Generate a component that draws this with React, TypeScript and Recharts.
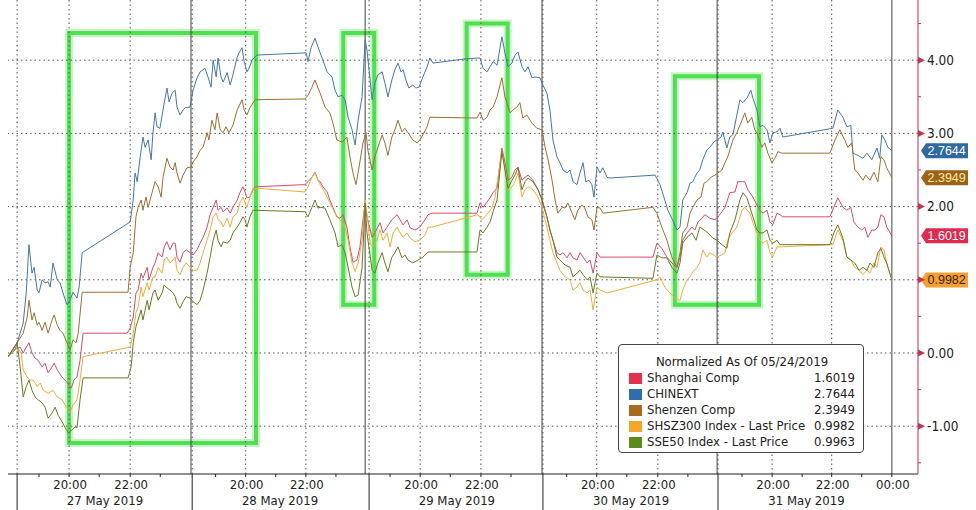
import {
  Legend,
  Line,
  LineChart,
  ReferenceArea,
  ReferenceDot,
  ReferenceLine,
  XAxis,
  YAxis,
} from 'recharts'

// x = hours on Bloomberg's compressed intraday axis (0 = start of 27 May session), y = normalized change
const shanghai: [number, number][] = [
  [-0.3, -0.05], [-0.13, 0.04], [0.1, 0.08], [0.2, 0], [0.3, 0.08], [0.39, 0.14], [0.49, 0], [0.59, -0.07],
  [0.69, -0.1], [0.82, -0.19], [0.92, -0.14], [1.02, -0.27], [1.15, -0.19], [1.22, -0.14], [1.32, -0.23],
  [1.48, -0.33], [1.64, -0.4], [1.78, -0.48], [1.87, -0.37], [1.97, -0.33], [2.07, -0.1], [2.17, 0.27],
  [3.62, 0.27], [3.72, 0.34], [3.82, 0.49], [3.91, 0.82], [3.98, 0.86], [4.08, 1.09], [4.14, 1.02],
  [4.28, 1.17], [4.34, 1.0], [4.47, 1.17], [4.54, 1.23], [4.64, 1.37], [4.77, 1.31], [4.84, 1.45],
  [4.93, 1.52], [5.03, 1.41], [5.13, 1.5], [5.2, 1.5], [5.26, 1.31], [5.36, 1.24], [5.46, 1.37],
  [5.56, 1.41], [5.69, 1.37], [5.79, 1.34], [5.92, 1.41], [6.02, 1.5], [6.12, 1.58], [6.25, 1.72],
  [6.35, 1.89], [6.45, 1.99], [6.55, 2.09], [6.61, 1.95], [6.71, 1.99], [6.78, 1.93], [6.91, 1.98],
  [7.01, 1.91], [7.1, 1.99], [7.24, 2.09], [7.33, 2.19], [7.43, 2.27], [7.5, 2.2], [7.56, 2.12],
  [7.66, 2.13], [7.76, 2.23], [7.83, 2.27], [9.47, 2.3], [9.57, 2.34], [9.7, 2.4], [9.8, 2.47],
  [9.9, 2.36], [9.97, 2.34], [10.06, 2.27], [10.2, 2.2], [10.29, 2.09], [10.39, 1.99], [10.52, 1.86],
  [10.62, 1.84], [10.72, 1.89], [10.85, 1.72], [10.95, 1.45], [11.05, 1.24], [11.18, 1.27], [11.28, 1.45],
  [11.38, 1.82], [11.45, 2.05], [11.51, 1.86], [11.68, 1.58], [11.77, 1.64], [11.94, 1.78], [12.04, 1.64],
  [12.17, 1.72], [12.33, 1.82], [12.5, 1.89], [12.6, 1.82], [12.7, 1.75], [12.83, 1.82], [12.93, 1.71],
  [13.09, 1.68], [13.25, 1.72], [13.42, 1.82], [13.52, 1.89], [13.65, 1.91], [15.13, 1.91], [15.23, 2.05],
  [15.33, 1.99], [15.46, 2.06], [15.56, 2.12], [15.66, 2.19], [15.79, 2.25], [15.95, 2.8], [16.05, 2.6],
  [16.15, 2.36], [16.28, 2.4], [16.38, 2.5], [16.48, 2.54], [16.61, 2.36], [16.71, 2.4], [16.81, 2.43],
  [16.97, 2.36], [17.14, 2.23], [17.27, 2.09], [17.43, 1.86], [17.53, 1.68], [17.63, 1.54], [17.76, 1.37],
  [17.86, 1.34], [17.96, 1.37], [18.09, 1.3], [18.19, 1.37], [18.29, 1.3], [18.42, 1.27], [18.52, 1.37],
  [18.62, 1.31], [18.75, 1.23], [18.85, 1.27], [18.95, 1.09], [19.08, 1.37], [19.18, 1.31], [20.92, 1.31],
  [21.05, 1.5], [21.21, 1.43], [21.38, 1.31], [21.54, 1.23], [21.71, 1.17], [21.81, 1.31], [21.9, 1.54],
  [22.04, 1.64], [22.2, 1.72], [22.3, 1.68], [22.4, 1.79], [22.53, 1.84], [22.63, 1.89], [22.79, 1.84],
  [22.96, 1.82], [23.06, 1.86], [23.19, 1.93], [23.29, 1.99], [23.45, 2.19], [23.62, 2.2], [23.71, 2.34],
  [23.85, 2.34], [23.94, 2.34], [24.04, 2.23], [24.21, 2.13], [24.34, 2.02], [24.44, 1.95], [24.54, 1.91],
  [24.67, 1.95], [24.77, 1.79], [24.86, 1.75], [25.0, 1.91], [25.1, 1.89], [25.19, 1.86], [26.74, 1.86],
  [26.87, 1.99], [27.0, 2.12], [27.17, 1.99], [27.3, 1.95], [27.43, 1.99], [27.53, 1.79], [27.66, 1.72],
  [27.79, 1.68], [27.89, 1.72], [27.99, 1.58], [28.12, 1.68], [28.22, 1.68], [28.32, 1.72], [28.42, 1.89],
  [28.52, 1.86], [28.61, 1.72], [28.78, 1.6019],
]

const chinext: [number, number][] = [
  [-0.3, -0.05], [-0.07, 0.04], [0.2, 0.41], [0.3, 0.82], [0.39, 1.48], [0.49, 1.09], [0.56, 1.17],
  [0.66, 0.86], [0.72, 0.82], [0.82, 1.0], [0.92, 0.96], [1.02, 0.97], [1.09, 0.9], [1.18, 1.23],
  [1.32, 1.0], [1.41, 0.96], [1.51, 0.82], [1.64, 0.66], [1.74, 0.72], [1.84, 0.83], [1.97, 0.75],
  [2.04, 0.9], [2.14, 1.37], [3.72, 1.79], [3.82, 2.09], [3.88, 2.46], [3.95, 2.34], [4.05, 2.68],
  [4.14, 2.95], [4.21, 2.81], [4.31, 2.91], [4.41, 2.64], [4.47, 3.01], [4.54, 3.28], [4.6, 3.09],
  [4.7, 3.07], [4.8, 3.32], [4.93, 3.62], [5.0, 3.43], [5.1, 3.55], [5.2, 3.59], [5.26, 3.36],
  [5.36, 3.25], [5.46, 3.32], [5.53, 3.35], [5.69, 3.36], [5.79, 3.59], [5.92, 3.76], [6.02, 3.84],
  [6.18, 3.89], [6.28, 3.77], [6.38, 3.63], [6.45, 4.0], [6.55, 3.77], [6.61, 4.03], [6.71, 3.77],
  [6.78, 3.7], [6.91, 3.83], [7.01, 3.66], [7.1, 3.8], [7.24, 4.04], [7.3, 4.1], [7.4, 4.17],
  [7.47, 3.98], [7.56, 3.84], [7.63, 3.89], [7.73, 4.0], [7.79, 4.03], [7.89, 4.07], [9.51, 4.1],
  [9.57, 3.98], [9.67, 4.17], [9.8, 4.3], [9.9, 4.18], [10.06, 4.0], [10.2, 3.84], [10.36, 3.77],
  [10.46, 3.59], [10.56, 3.5], [10.69, 3.52], [10.79, 3.46], [10.89, 3.22], [11.02, 3.05], [11.12, 2.84],
  [11.22, 3.18], [11.35, 3.5], [11.45, 4.28], [11.51, 4.14], [11.68, 3.46], [11.77, 3.69], [11.87, 3.8],
  [12.01, 3.84], [12.1, 3.69], [12.2, 3.5], [12.33, 3.73], [12.43, 3.87], [12.53, 3.96], [12.63, 3.84],
  [12.7, 3.87], [12.79, 3.73], [12.89, 3.62], [13.02, 3.66], [13.12, 3.62], [13.22, 3.63], [13.35, 3.77],
  [13.49, 3.91], [13.58, 4.03], [13.68, 3.96], [14.8, 4.02], [15.23, 4.03], [15.33, 3.89], [15.46, 3.84],
  [15.56, 3.91], [15.66, 3.98], [15.79, 3.93], [15.95, 4.32], [16.05, 4.1], [16.15, 3.91], [16.28, 3.96],
  [16.38, 4.07], [16.48, 4.11], [16.61, 3.91], [16.71, 3.84], [16.81, 3.91], [16.94, 3.76], [17.04, 3.77],
  [17.2, 3.76], [17.3, 3.66], [17.43, 3.55], [17.53, 3.32], [17.63, 2.91], [17.76, 2.68], [17.86, 2.6],
  [17.96, 2.5], [18.09, 2.46], [18.19, 2.5], [18.29, 2.34], [18.42, 2.3], [18.52, 2.46], [18.62, 2.6],
  [18.71, 2.34], [18.81, 2.36], [18.91, 2.3], [18.98, 2.13], [19.08, 2.54], [19.18, 2.46], [19.27, 2.53],
  [19.41, 2.4], [19.5, 2.39], [20.99, 2.43], [21.15, 2.3], [21.31, 2.09], [21.41, 1.95], [21.54, 1.84],
  [21.71, 1.68], [21.81, 1.72], [21.9, 2.09], [22.04, 2.19], [22.14, 2.32], [22.23, 2.34], [22.37, 2.46],
  [22.46, 2.5], [22.56, 2.64], [22.69, 2.77], [22.79, 2.81], [22.92, 2.88], [23.02, 2.91], [23.16, 2.95],
  [23.22, 3.02], [23.35, 2.8], [23.45, 2.95], [23.55, 2.98], [23.68, 3.25], [23.78, 3.46], [23.88, 3.42],
  [24.01, 3.48], [24.14, 3.59], [24.21, 3.48], [24.34, 3.32], [24.44, 3.09], [24.54, 3.11], [24.67, 3.05],
  [24.77, 2.87], [24.86, 3.01], [25.0, 3.02], [25.1, 3.07], [25.19, 2.95], [26.84, 3.07], [27.0, 3.32],
  [27.17, 3.22], [27.3, 3.09], [27.43, 3.11], [27.5, 2.73], [27.66, 2.7], [27.83, 2.66], [27.96, 2.73],
  [28.12, 2.64], [28.29, 2.8], [28.38, 2.66], [28.45, 2.98], [28.55, 2.91], [28.65, 2.81], [28.78, 2.7644],
]

const shenzen: [number, number][] = [
  [-0.3, -0.05], [0, 0.14], [0.2, 0.27], [0.33, 0.49], [0.39, 0.72], [0.49, 0.45], [0.56, 0.55],
  [0.66, 0.38], [0.72, 0.42], [0.82, 0.31], [0.92, 0.42], [1.02, 0.27], [1.15, 0.45], [1.22, 0.52],
  [1.32, 0.38], [1.41, 0.31], [1.51, 0.27], [1.64, 0.14], [1.74, 0.04], [1.84, 0.18], [1.94, 0.14],
  [2.01, 0.27], [2.14, 0.83], [3.65, 0.83], [3.72, 1.17], [3.82, 1.37], [3.91, 1.86], [3.98, 1.99],
  [4.08, 2.09], [4.14, 1.95], [4.24, 2.13], [4.31, 1.99], [4.44, 2.19], [4.54, 2.34], [4.64, 2.27],
  [4.74, 2.13], [4.8, 2.4], [4.93, 2.66], [5.03, 2.54], [5.13, 2.5], [5.2, 2.6], [5.26, 2.46],
  [5.36, 2.32], [5.46, 2.43], [5.59, 2.53], [5.72, 2.54], [5.79, 2.61], [5.92, 2.68], [6.02, 2.77],
  [6.12, 2.81], [6.25, 3.01], [6.31, 2.91], [6.41, 3.18], [6.51, 3.05], [6.58, 3.28], [6.68, 3.05],
  [6.78, 3.01], [6.87, 3.09], [6.97, 3.01], [7.1, 3.11], [7.24, 3.32], [7.4, 3.46], [7.47, 3.32],
  [7.56, 3.25], [7.66, 3.35], [7.83, 3.46], [9.47, 3.47], [9.57, 3.52], [9.7, 3.63], [9.8, 3.73],
  [9.9, 3.62], [9.97, 3.55], [10.13, 3.36], [10.29, 3.28], [10.39, 3.14], [10.52, 2.91], [10.69, 2.88],
  [10.85, 2.95], [10.95, 2.68], [11.05, 2.46], [11.15, 2.3], [11.25, 2.54], [11.38, 2.87], [11.48, 3.01],
  [11.54, 2.77], [11.68, 2.5], [11.77, 2.68], [11.87, 2.81], [12.01, 2.98], [12.1, 2.87], [12.2, 2.7],
  [12.33, 2.95], [12.43, 3.05], [12.53, 3.18], [12.66, 3.02], [12.76, 3.07], [12.86, 3.01], [13.02, 2.91],
  [13.16, 2.87], [13.25, 2.91], [13.35, 2.98], [13.49, 3.09], [13.58, 3.22], [15.13, 3.21], [15.23, 3.29],
  [15.33, 3.18], [15.46, 3.22], [15.56, 3.32], [15.66, 3.36], [15.79, 3.5], [15.95, 3.76], [16.05, 3.5],
  [16.22, 3.28], [16.31, 3.32], [16.45, 3.36], [16.54, 3.42], [16.64, 3.21], [16.77, 3.25], [16.94, 3.14],
  [17.1, 3.07], [17.27, 3.05], [17.37, 2.81], [17.47, 2.64], [17.6, 2.36], [17.7, 2.09], [17.79, 1.91],
  [17.93, 1.99], [18.03, 1.98], [18.12, 2.05], [18.26, 1.91], [18.35, 1.82], [18.45, 1.95], [18.58, 2.02],
  [18.68, 1.98], [18.78, 1.86], [18.91, 1.82], [18.98, 1.68], [19.08, 1.99], [19.18, 1.98], [19.27, 1.91],
  [20.92, 1.99], [21.05, 1.91], [21.21, 1.72], [21.38, 1.54], [21.54, 1.31], [21.71, 1.17], [21.81, 1.37],
  [21.9, 1.64], [22.04, 1.72], [22.14, 1.91], [22.23, 1.99], [22.37, 2.09], [22.5, 2.13], [22.6, 2.32],
  [22.69, 2.34], [22.82, 2.4], [22.96, 2.43], [23.06, 2.46], [23.19, 2.5], [23.29, 2.6], [23.38, 2.68],
  [23.55, 2.91], [23.68, 3.01], [23.85, 3.18], [23.94, 3.28], [24.04, 3.14], [24.17, 3.22], [24.27, 3.05],
  [24.37, 2.98], [24.5, 2.81], [24.6, 2.87], [24.7, 2.73], [24.83, 2.6], [24.93, 2.66], [25.03, 2.75],
  [25.16, 2.73], [26.74, 2.73], [26.91, 2.91], [27.07, 3.05], [27.23, 2.91], [27.33, 2.81], [27.46, 2.87],
  [27.56, 2.5], [27.66, 2.46], [27.83, 2.36], [27.92, 2.43], [28.06, 2.36], [28.19, 2.47], [28.32, 2.34],
  [28.42, 2.68], [28.52, 2.64], [28.61, 2.53], [28.78, 2.3949],
]

const shsz300: [number, number][] = [
  [-0.3, -0.05], [0, 0.08], [0.13, 0], [0.2, -0.23], [0.33, -0.33], [0.43, -0.37], [0.53, -0.37],
  [0.66, -0.46], [0.76, -0.41], [0.86, -0.51], [1.02, -0.55], [1.18, -0.51], [1.32, -0.6], [1.48, -0.64],
  [1.64, -0.75], [1.74, -0.81], [1.84, -0.71], [1.97, -0.64], [2.07, -0.37], [2.17, -0.05], [3.72, 0.08],
  [3.82, 0.27], [3.91, 0.55], [3.98, 0.63], [4.08, 0.9], [4.14, 0.77], [4.28, 0.96], [4.34, 0.86],
  [4.47, 1.04], [4.54, 1.04], [4.64, 1.17], [4.77, 1.09], [4.84, 1.27], [4.93, 1.31], [5.03, 1.23],
  [5.13, 1.27], [5.2, 1.31], [5.26, 1.13], [5.36, 1.07], [5.46, 1.17], [5.56, 1.23], [5.69, 1.17],
  [5.79, 1.13], [5.92, 1.13], [6.02, 1.23], [6.12, 1.37], [6.25, 1.54], [6.35, 1.68], [6.45, 1.86],
  [6.55, 1.91], [6.61, 1.82], [6.71, 1.79], [6.78, 1.72], [6.91, 1.84], [7.01, 1.72], [7.1, 1.86],
  [7.24, 1.91], [7.33, 2.05], [7.43, 2.13], [7.5, 2.05], [7.56, 1.99], [7.66, 2.12], [7.76, 2.25],
  [7.89, 2.25], [9.47, 2.2], [9.57, 2.27], [9.7, 2.4], [9.8, 2.46], [9.9, 2.36], [9.97, 2.3],
  [10.13, 2.19], [10.29, 2.05], [10.46, 1.91], [10.62, 1.82], [10.79, 1.72], [10.89, 1.54], [11.02, 1.23],
  [11.12, 1.11], [11.22, 1.23], [11.35, 1.54], [11.45, 2.09], [11.51, 1.91], [11.61, 1.5], [11.71, 1.45],
  [11.84, 1.54], [11.94, 1.68], [12.04, 1.54], [12.17, 1.64], [12.27, 1.45], [12.37, 1.64], [12.5, 1.72],
  [12.6, 1.64], [12.7, 1.58], [12.83, 1.64], [12.93, 1.57], [13.09, 1.52], [13.25, 1.54], [13.42, 1.61],
  [13.52, 1.72], [13.65, 1.72], [15.16, 1.89], [15.29, 1.82], [15.39, 1.86], [15.49, 1.91], [15.62, 1.98],
  [15.72, 2.12], [15.82, 2.4], [15.95, 2.75], [16.05, 2.54], [16.15, 2.23], [16.28, 2.27], [16.38, 2.34],
  [16.48, 2.46], [16.61, 2.13], [16.71, 2.23], [16.81, 2.27], [16.97, 2.23], [17.14, 2.13], [17.27, 1.99],
  [17.43, 1.72], [17.53, 1.54], [17.63, 1.37], [17.76, 1.23], [17.86, 1.13], [18.03, 1.04], [18.19, 1.0],
  [18.29, 0.86], [18.42, 0.9], [18.52, 0.96], [18.62, 0.86], [18.75, 0.82], [18.85, 0.86], [18.95, 0.59],
  [19.08, 0.9], [19.18, 0.86], [19.41, 0.82], [21.05, 1.0], [21.15, 1.04], [21.31, 0.9], [21.48, 0.82],
  [21.64, 0.75], [21.81, 0.72], [21.9, 0.86], [22.04, 1.0], [22.14, 1.04], [22.23, 1.11], [22.37, 1.17],
  [22.46, 1.23], [22.56, 1.41], [22.69, 1.31], [22.79, 1.37], [23.02, 1.31], [23.19, 1.34], [23.29, 1.37],
  [23.38, 1.54], [23.52, 1.64], [23.68, 1.72], [23.85, 1.95], [23.94, 1.99], [24.11, 1.91], [24.21, 1.78],
  [24.34, 1.64], [24.44, 1.54], [24.54, 1.5], [24.67, 1.54], [24.77, 1.37], [24.86, 1.31], [25.0, 1.45],
  [25.1, 1.45], [26.84, 1.48], [27.0, 1.68], [27.17, 1.54], [27.3, 1.31], [27.43, 1.27], [27.56, 1.17],
  [27.7, 1.13], [27.83, 1.07], [27.96, 1.13], [28.06, 1.09], [28.19, 1.23], [28.29, 1.17], [28.42, 1.45],
  [28.52, 1.41], [28.61, 1.23], [28.78, 0.9982],
]

const sse50: [number, number][] = [
  [-0.3, -0.05], [0, 0.14], [0.1, -0.19], [0.2, -0.6], [0.3, -0.46], [0.39, -0.37], [0.49, -0.51],
  [0.59, -0.6], [0.69, -0.64], [0.82, -0.68], [0.92, -0.74], [1.02, -0.89], [1.15, -0.82], [1.25, -0.74],
  [1.35, -0.85], [1.48, -0.94], [1.58, -1.02], [1.68, -1.09], [1.81, -1.05], [1.91, -1.01], [1.97, -1.02],
  [2.07, -0.64], [2.17, -0.34], [3.65, -0.34], [3.75, -0.19], [3.82, 0.14], [3.91, 0.36], [3.98, 0.45],
  [4.08, 0.59], [4.14, 0.45], [4.28, 0.72], [4.34, 0.59], [4.47, 0.82], [4.54, 0.86], [4.64, 0.72],
  [4.77, 0.82], [4.84, 0.93], [4.93, 0.89], [5.03, 0.86], [5.13, 0.82], [5.2, 0.77], [5.26, 0.68],
  [5.36, 0.61], [5.46, 0.7], [5.56, 0.77], [5.69, 0.75], [5.79, 0.7], [5.92, 0.66], [6.02, 0.72],
  [6.12, 0.86], [6.25, 1.09], [6.35, 1.31], [6.45, 1.54], [6.55, 1.68], [6.61, 1.54], [6.71, 1.45],
  [6.78, 1.52], [6.91, 1.5], [7.01, 1.54], [7.1, 1.64], [7.24, 1.72], [7.33, 1.78], [7.43, 1.86],
  [7.5, 1.82], [7.56, 1.72], [7.66, 1.86], [7.76, 1.95], [9.47, 1.93], [9.57, 1.86], [9.7, 1.99],
  [9.8, 2.09], [9.9, 1.98], [9.97, 1.99], [10.13, 1.98], [10.29, 1.82], [10.46, 1.64], [10.56, 1.45],
  [10.69, 1.48], [10.79, 1.37], [10.89, 1.17], [11.02, 0.9], [11.12, 0.77], [11.22, 0.79], [11.35, 1.17],
  [11.45, 2.05], [11.51, 1.64], [11.68, 1.13], [11.77, 1.09], [11.87, 1.23], [12.01, 1.37], [12.1, 1.23],
  [12.2, 1.11], [12.33, 1.31], [12.43, 1.37], [12.53, 1.45], [12.66, 1.3], [12.76, 1.34], [12.86, 1.27],
  [13.02, 1.23], [13.19, 1.27], [13.35, 1.31], [13.52, 1.38], [13.68, 1.38], [15.13, 1.38], [15.23, 1.68],
  [15.33, 1.64], [15.46, 1.72], [15.56, 1.79], [15.66, 1.93], [15.79, 2.09], [15.95, 2.75], [16.05, 2.5],
  [16.15, 2.25], [16.28, 2.36], [16.38, 2.43], [16.48, 2.53], [16.61, 2.23], [16.71, 2.34], [16.81, 2.39],
  [16.97, 2.34], [17.14, 2.23], [17.27, 2.09], [17.43, 1.86], [17.53, 1.68], [17.63, 1.54], [17.76, 1.31],
  [17.86, 1.27], [18.03, 1.2], [18.19, 1.17], [18.29, 1.04], [18.42, 1.09], [18.52, 1.13], [18.62, 1.07],
  [18.75, 1.0], [18.85, 1.04], [18.95, 0.82], [19.08, 1.09], [19.18, 1.04], [20.92, 1.02], [21.05, 1.34],
  [21.21, 1.3], [21.38, 1.3], [21.54, 1.17], [21.71, 1.09], [21.81, 1.23], [21.9, 1.5], [22.04, 1.58],
  [22.2, 1.64], [22.34, 1.54], [22.46, 1.72], [22.6, 1.68], [22.73, 1.64], [22.89, 1.57], [23.02, 1.54],
  [23.19, 1.48], [23.35, 1.43], [23.45, 1.64], [23.62, 1.82], [23.78, 2.09], [23.88, 2.19], [24.01, 2.12],
  [24.11, 1.99], [24.21, 1.86], [24.34, 1.68], [24.44, 1.64], [24.54, 1.64], [24.67, 1.68], [24.77, 1.54],
  [24.86, 1.5], [25.0, 1.54], [25.1, 1.48], [25.19, 1.48], [26.74, 1.48], [26.87, 1.64], [27.0, 1.75],
  [27.17, 1.57], [27.3, 1.31], [27.43, 1.27], [27.56, 1.23], [27.7, 1.13], [27.83, 1.17], [27.96, 1.13],
  [28.06, 1.23], [28.19, 1.17], [28.32, 1.37], [28.42, 1.43], [28.52, 1.31], [28.61, 1.23], [28.78, 0.9963],
]

const seriesNames = [
  'Shanghai Comp',
  'CHINEXT',
  'Shenzen Comp',
  'SHSZ300 Index - Last Price',
  'SSE50 Index - Last Price',
]
const lastValues = [1.6019, 2.7644, 2.3949, 0.9982, 0.9963]
// SSE50's tag sits right under SHSZ300's, so the reference only shows these four
const taggedSeries = [0, 1, 2, 3]

// axis ticks (compressed hours)
const dayStarts = [0, 5.76, 11.58, 17.3, 23.06]
const midnights = [5.72, 11.45, 17.27, 23.03, 28.78]
const ticks2000 = [1.71, 7.52, 13.26, 19.07, 24.84]
const ticks2200 = [3.72, 9.5, 15.26, 21.08, 26.8]
const hourTicks = [0.72, 2.7, 4.71, 6.53, 8.51, 10.49, 12.27, 14.25, 16.25, 18.08, 20.06, 22.07, 23.85, 25.83, 27.79]
const dateCenters = [2.89, 8.65, 14.47, 20.2, 25.97]
const dateLabels = ['27 May 2019', '28 May 2019', '29 May 2019', '30 May 2019', '31 May 2019']
const yMajor = [-1, 0, 1, 2, 3, 4]
const yMinor = [-1.5, -0.5, 0.5, 1.5, 2.5, 3.5, 4.5]

// highlighted windows: [x1, x2, yTop, yBottom]
const highlights: [number, number, number, number][] = [
  [1.71, 7.86, 4.37, -1.23],
  [10.73, 11.75, 4.37, 0.66],
  [14.79, 16.14, 4.5, 1.07],
  [21.64, 24.41, 3.78, 0.66],
]

const FONT = "'DejaVu Sans Condensed', 'Liberation Sans', Arial, sans-serif"
const TAG_FONT = "'Liberation Sans', Arial, sans-serif"
const AXIS_RED = '#c8314f'
const GRID = '#555'
const lineColors = ['#dc4a6a', '#4677a6', '#9c7030', '#f0ad3c', '#6b7a24']
const swatchColors = ['#e2304e', '#2f6eaa', '#a86a1c', '#f4a62a', '#5a8c1c']
const tagColors = ['#e2284c', '#2e6aa0', '#9a6418', '#f4a030', '#5a8c1c']
const tagText = ['#fff', '#fff', '#ffe6a0', '#3a2600', '#fff']

const allSeries = [shanghai, chinext, shenzen, shsz300, sse50]

type XTick = { t: number; kind: 'day' | 'hour' | 'time' | 'date'; label?: string }
const xTicks: XTick[] = [
  ...dayStarts.map((t) => ({ t, kind: 'day' as const })),
  ...hourTicks.map((t) => ({ t, kind: 'hour' as const })),
  ...ticks2000.map((t) => ({ t, kind: 'time' as const, label: '20:00' })),
  ...ticks2200.map((t) => ({ t, kind: 'time' as const, label: '22:00' })),
  { t: midnights[4], kind: 'time', label: '00:00' },
  ...dateCenters.map((t, i) => ({ t, kind: 'date' as const, label: dateLabels[i] })),
]

function XTickMark(props: any) {
  const { x, y, payload } = props
  const item = xTicks.find((d) => Math.abs(d.t - payload.value) < 1e-6)
  if (!item) return null
  if (item.kind === 'day') return <line x1={x} x2={x} y1={y} y2={y + 40} stroke="#222" />
  if (item.kind === 'hour') return <line x1={x} x2={x} y1={y} y2={y + 3} stroke="#222" />
  if (item.kind === 'date')
    return (
      <text x={x} y={y + 31} textAnchor="middle" fontSize={13} fontFamily={FONT} fill="#222">
        {item.label}
      </text>
    )
  return (
    <g>
      <line x1={x} x2={x} y1={y} y2={y + 3} stroke="#222" />
      <text x={x + 1} y={y + 15} textAnchor="middle" fontSize={13} fontFamily={FONT} fill="#222">
        {item.label}
      </text>
    </g>
  )
}

function YTickMark(props: any) {
  const { x, y, payload } = props
  const v: number = payload.value
  if (!yMajor.includes(v)) return <line x1={x} x2={x + 3} y1={y} y2={y} stroke={AXIS_RED} />
  // a last-value tag drawn over this level hides the tick label, as on the terminal
  const covered = taggedSeries.some((i) => Math.abs(lastValues[i] - v) < 0.15)
  return (
    <g>
      <path d={`M${x},${y - 3.5}L${x + 7},${y}L${x},${y + 3.5}Z`} fill={AXIS_RED} />
      {!covered && (
        <text x={x + 9} y={y} dy="0.36em" fontSize={13.5} fontFamily={FONT} fill="#222">
          {v.toFixed(2)}
        </text>
      )}
    </g>
  )
}

function ValueTag(i: number) {
  return (p: any) => {
    const { cx, cy } = p
    const x0 = cx + 3
    return (
      <g>
        <path
          d={`M${x0},${cy}L${x0 + 5},${cy - 7.5}L${x0 + 47},${cy - 7.5}L${x0 + 47},${cy + 7.5}L${x0 + 5},${cy + 7.5}Z`}
          fill={tagColors[i]}
        />
        <text x={x0 + 6.5} y={cy} dy="0.36em" fontSize={12.5} fontFamily={TAG_FONT} fill={tagText[i]}>
          {lastValues[i].toFixed(4)}
        </text>
      </g>
    )
  }
}

function LegendBox() {
  return (
    <div
      style={{
        width: 246,
        height: 109,
        boxSizing: 'border-box',
        border: '1px solid #444',
        borderRadius: 4,
        background: '#fff',
        padding: '9px 8px 0 10px',
        fontFamily: FONT,
        fontSize: 13,
        color: '#222',
        lineHeight: '16px',
      }}
    >
      <div style={{ textAlign: 'center' }}>Normalized As Of 05/24/2019</div>
      {seriesNames.map((name, i) => (
        <div key={name} style={{ display: 'flex', alignItems: 'center', height: 16 }}>
          <span style={{ width: 13, height: 11, background: swatchColors[i], marginRight: 5 }} />
          <span style={{ flex: 1, whiteSpace: 'nowrap' }}>{name}</span>
          <span>{lastValues[i].toFixed(4)}</span>
        </div>
      ))}
    </div>
  )
}

export default function App() {
  return (
    <div style={{ position: 'absolute', left: 0, top: 0, width: 976, height: 510, background: '#fff' }}>
      <LineChart width={976} height={510} margin={{ top: 0, right: 0, bottom: 0, left: 8 }}>
        <XAxis
          type="number"
          dataKey="t"
          domain={[-0.3, 29.64]}
          allowDataOverflow
          ticks={xTicks.map((d) => d.t)}
          interval={0}
          tick={<XTickMark />}
          tickLine={false}
          tickSize={0}
          tickMargin={0}
          height={36}
          axisLine={{ stroke: '#222' }}
        />
        <YAxis
          orientation="right"
          type="number"
          domain={[-1.653, 4.822]}
          allowDataOverflow
          ticks={[...yMinor, ...yMajor]}
          interval={0}
          tick={<YTickMark />}
          tickLine={false}
          tickSize={0}
          tickMargin={0}
          width={58}
          axisLine={{ stroke: AXIS_RED }}
        />
        {yMajor.map((v) => (
          <ReferenceLine key={`h${v}`} y={v} stroke={GRID} strokeDasharray="1.5 3" />
        ))}
        {[...dayStarts, ...ticks2000, ...ticks2200].map((t) => (
          <ReferenceLine key={`v${t}`} x={t} stroke={GRID} strokeDasharray="1.5 3" />
        ))}
        {midnights.map((t) => (
          <ReferenceLine key={`m${t}`} x={t} stroke="#444" />
        ))}
        {allSeries.map((rows, i) => (
          <Line
            key={seriesNames[i]}
            name={seriesNames[i]}
            data={rows.map(([t, v]) => ({ t, v }))}
            dataKey="v"
            type="linear"
            stroke={lineColors[i]}
            strokeWidth={1}
            dot={false}
            activeDot={false}
            isAnimationActive={false}
          />
        ))}
        {highlights.map(([x1, x2, y1, y2], i) => (
          <ReferenceArea key={`g${i}`} x1={x1} x2={x2} y1={y1} y2={y2} fill="none" stroke="#4cdc4c" strokeOpacity={0.3} strokeWidth={8} ifOverflow="visible" />
        ))}
        {highlights.map(([x1, x2, y1, y2], i) => (
          <ReferenceArea key={`G${i}`} x1={x1} x2={x2} y1={y1} y2={y2} fill="none" stroke="#4ee04e" strokeWidth={4} ifOverflow="visible" />
        ))}
        {taggedSeries.map((i) => (
          <ReferenceDot key={`tag${i}`} x={29.64} y={lastValues[i]} r={0} ifOverflow="visible" shape={ValueTag(i)} />
        ))}
        <Legend
          layout="horizontal"
          verticalAlign="middle"
          align="center"
          content={() => <LegendBox />}
          wrapperStyle={{ left: 618, top: 344, width: 246, height: 109 }}
        />
      </LineChart>
    </div>
  )
}
